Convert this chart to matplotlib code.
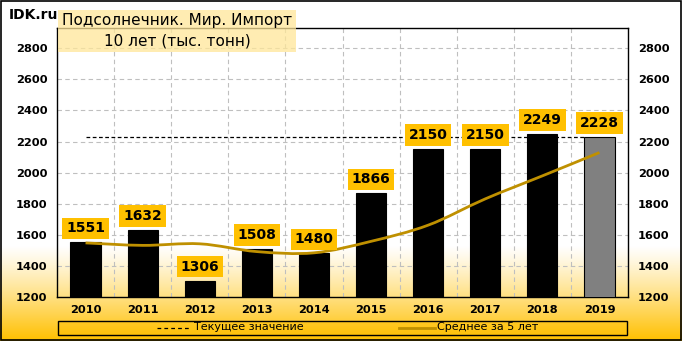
import numpy as np
import matplotlib
matplotlib.use("Agg")
import matplotlib.pyplot as plt
from matplotlib.colors import LinearSegmentedColormap
from matplotlib.path import Path
from matplotlib.patches import PathPatch
from matplotlib.lines import Line2D

# данные: импорт подсолнечника, тыс. тонн
years = ["2010", "2011", "2012", "2013", "2014", "2015", "2016", "2017", "2018", "2019"]
imports = [1551, 1632, 1306, 1508, 1480, 1866, 2150, 2150, 2249, 2228]
avg5 = [1548, 1532, 1542, 1492, 1484, 1558, 1662, 1831, 1979, 2129]
current = 2228

GOLD = "#FFC000"
LINE_GOLD = "#BF9000"
W, H = 682, 341

fig = plt.figure(figsize=(W / 100, H / 100), dpi=100)

# фон: белый сверху, к низу переходит в золотой
bg = fig.add_axes([0, 0, 1, 1], zorder=-10)
cmap = LinearSegmentedColormap.from_list("bg", ["#FFFFFF", GOLD], N=256)
t = np.linspace(0, 1, H).reshape(-1, 1)
g = np.clip((t - 0.72) / 0.28, 0, 1) ** 1.15
bg.imshow(g, aspect="auto", cmap=cmap, vmin=0, vmax=1, extent=[0, 1, 0, 1], origin="upper")
bg.set_xlim(0, 1)
bg.set_ylim(0, 1)
bg.axis("off")
bg.add_patch(plt.Rectangle((0.001, 0.002), 0.997, 0.995, fill=False, lw=1.2, ec="black",
                           transform=bg.transAxes))

ax = fig.add_axes([57 / W, 1 - 297 / H, 571 / W, 269 / H])
ax.set_facecolor("none")
x = np.arange(len(years))

colors = ["black"] * (len(years) - 1) + ["#808080"]
ax.bar(x, imports, width=0.53, color=colors, edgecolor="black", linewidth=0.8, zorder=3)

# пунктир текущего значения
ax.hlines(current, 0, len(years) - 1 - 0.265, colors="black", linestyles=(0, (3, 2)),
          linewidth=0.9, zorder=4)

# сглаженная линия среднего (сплайн Катмулла-Рома через кривые Безье)
pts = np.column_stack([x, avg5]).astype(float)
verts = [tuple(pts[0])]
codes = [Path.MOVETO]
for i in range(len(pts) - 1):
    p0 = pts[i - 1] if i > 0 else pts[i]
    p1, p2 = pts[i], pts[i + 1]
    p3 = pts[i + 2] if i + 2 < len(pts) else pts[i + 1]
    c1 = p1 + (p2 - p0) / 6
    c2 = p2 - (p3 - p1) / 6
    verts += [tuple(c1), tuple(c2), tuple(p2)]
    codes += [Path.CURVE4] * 3
ax.add_patch(PathPatch(Path(verts, codes), fill=False, ec=LINE_GOLD, lw=2, zorder=5,
                       capstyle="butt"))

for xi, v in zip(x, imports):
    ax.text(xi, v + 90, str(v), ha="center", va="center", fontsize=10, fontweight="bold",
            zorder=6, bbox=dict(boxstyle="square,pad=0.28", fc=GOLD, ec="none"))

ax.set_xlim(-0.5, len(years) - 0.5)
ax.set_ylim(1200, 2930)
ax.set_yticks(range(1200, 2801, 200))
ax.set_xticks(x)
ax.set_xticklabels(years)
ax.set_xticks(np.arange(0.5, len(years) - 1, 1), minor=True)
ax.grid(axis="y", which="major", color="#BFBFBF", linestyle=(0, (4, 3)), linewidth=0.8, zorder=0)
ax.grid(axis="x", which="minor", color="#BFBFBF", linestyle=(0, (4, 3)), linewidth=0.8, zorder=0)
ax.tick_params(axis="both", which="both", length=0)
ax.tick_params(axis="y", labelright=True, pad=7)
ax.tick_params(axis="x", pad=6)
for lbl in ax.get_xticklabels() + ax.get_yticklabels():
    lbl.set_fontweight("bold")
    lbl.set_fontsize(8.2)
for sp in ax.spines.values():
    sp.set_color("black")
    sp.set_linewidth(1)

# заголовок
fig.text(9 / W, 1 - 15 / H, "IDK.ru", fontsize=10, fontweight="bold", ha="left", va="center")
fig.patches.append(plt.Rectangle((58 / W, 1 - 52 / H), 238 / W, 42 / H,
                                 transform=fig.transFigure, fc="#FFE699", ec="none",
                                 alpha=0.75, zorder=1))
fig.text(177 / W, 1 - 20 / H, "Подсолнечник. Мир. Импорт", fontsize=11, ha="center",
         va="center", zorder=2)
fig.text(177 / W, 1 - 41 / H, "10 лет (тыс. тонн)", fontsize=11, ha="center",
         va="center", zorder=2)

# легенда: рамка и элементы вручную
fig.patches.append(plt.Rectangle((58 / W, 1 - 335 / H), 569 / W, 14.5 / H,
                                 transform=fig.transFigure, fc=GOLD, alpha=0.35,
                                 ec="none", zorder=1))
fig.patches.append(plt.Rectangle((58 / W, 1 - 335 / H), 569 / W, 14.5 / H,
                                 transform=fig.transFigure, fill=False, ec="black",
                                 lw=1, zorder=2))
ly = 1 - 327.5 / H
fig.add_artist(Line2D([157 / W, 189 / W], [ly, ly], color="black", linestyle=(0, (3, 2.5)),
                      lw=0.9))
fig.text(194 / W, ly, "Текущее значение", fontsize=8, ha="left", va="center")
fig.add_artist(Line2D([399 / W, 435 / W], [ly, ly], color=LINE_GOLD, lw=2))
fig.text(437 / W, ly, "Среднее за 5 лет", fontsize=8, ha="left", va="center")

fig.savefig("out.png", dpi=100)
